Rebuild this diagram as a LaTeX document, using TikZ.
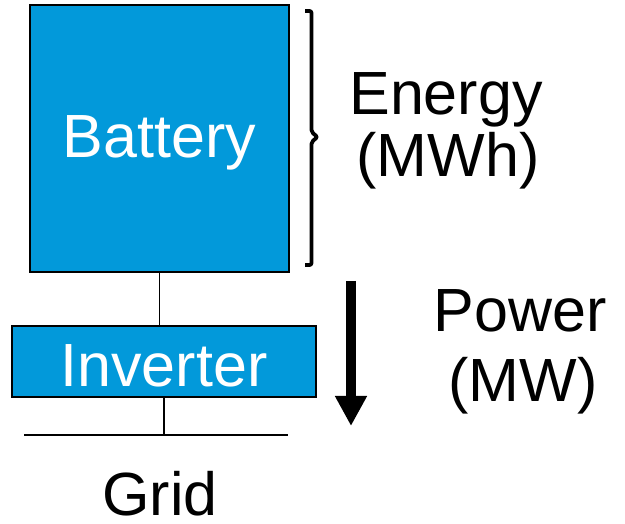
\documentclass[tikz,border=0pt]{standalone}
\usepackage{fontspec}
\setmainfont{Liberation Sans}
\usetikzlibrary{arrows.meta}
\definecolor{boxblue}{RGB}{2,153,218}
\tikzset{
  blockbox/.style={draw=black, line width=2.5pt, fill=boxblue, inner sep=0pt},
  bigtxt/.style={font=\fontsize{61}{62}\selectfont, inner sep=0pt, anchor=base},
  wiretxt/.style={line width=1.8pt},
}
\begin{document}
\begin{tikzpicture}[x=1pt,y=-1pt]
\useasboundingbox (0,0) rectangle (625,524);
% boxes
\node[blockbox, minimum width=259pt, minimum height=267pt] (bat) at (159.5,138.5) {};
\node[blockbox, minimum width=304pt, minimum height=71pt] (inv) at (164,361.5) {};
\node[bigtxt, text=white] (battxt) at (159.5,158) {Battery};
\node[bigtxt, text=white] (invtxt) at (164,386) {Inverter};
% grid line
\coordinate (gl) at (24,435);
\coordinate (gr) at (288,435);
\draw[wiretxt] (gl) -- (gr);
\draw[wiretxt] (bat.south) -- (bat.south |- inv.north);
\draw[wiretxt] (inv.south) -- (inv.south |- gl);
\node[bigtxt] (grid) at (160,515) {Grid};
% brace
\coordinate (bt) at (305,11);
\coordinate (bb) at (305,265);
\draw[line width=3.8pt, line join=round, rounded corners=2pt] (bt) -- (311.5,11) -- (311.5,132) -- (317.5,137) -- (311.5,142) -- (311.5,265) -- (bb);
% arrow
\coordinate (as) at (351,281);
\coordinate (ae) at (351,426);
\draw[line width=10pt, -{Triangle[width=30pt,length=30pt]}] (as) -- (ae);
% labels
\node[bigtxt] (en1) at (446,115) {Energy};
\node[bigtxt] (en2) at (448,177) {(MWh)};
\node[bigtxt] (pw1) at (520,332) {Power};
\node[bigtxt] (pw2) at (523,402) {(MW)};
\end{tikzpicture}
\end{document}
